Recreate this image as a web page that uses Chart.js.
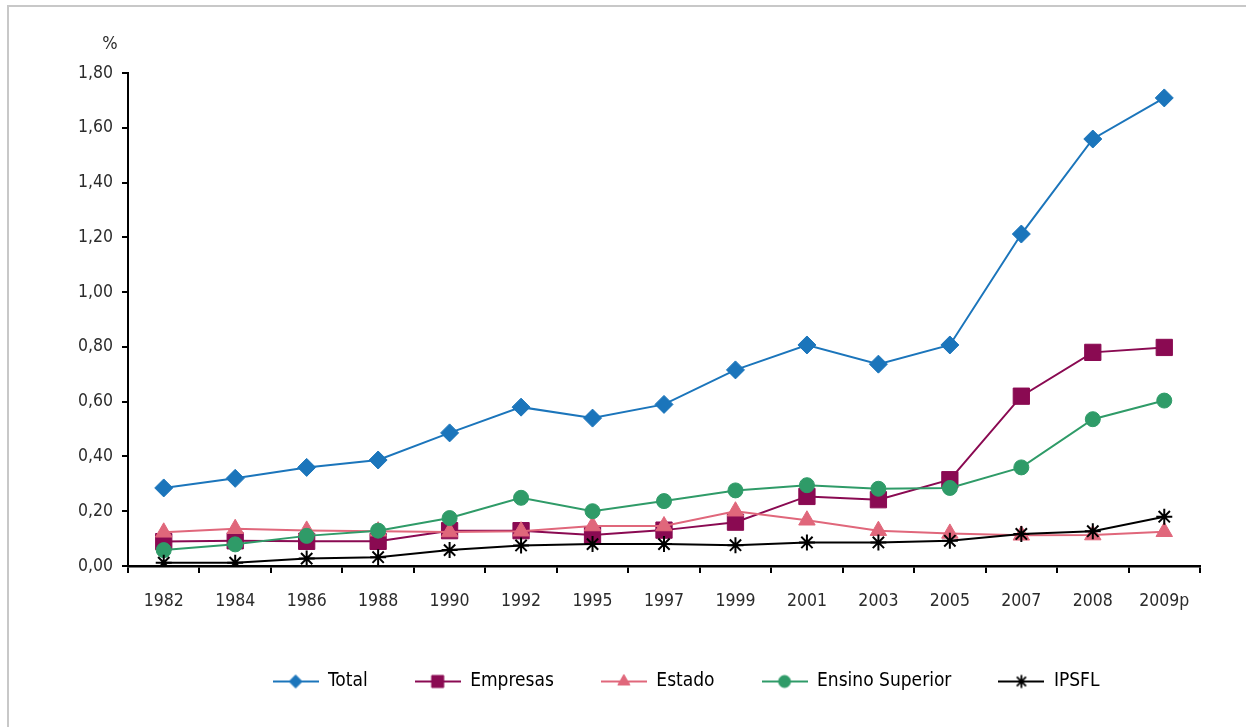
<!DOCTYPE html>
<html lang="pt">
<head>
  <meta charset="UTF-8" />
  <title>Despesa em I&D em % do PIB</title>
  <script src="https://cdn.jsdelivr.net/npm/chart.js"></script>
  <style>
    body { margin: 0; background: #fff; }
    .frame { position: absolute; left: 7px; top: 5px; width: 1250px; height: 740px; border-top: 2px solid #c8c8c8; border-left: 2px solid #c8c8c8; }
    .wrap { position: absolute; left: 0; top: 0; width: 1246px; height: 727px; }
  </style>
</head>
<body>
  <div class="frame"></div>
  <div class="wrap"><canvas id="chart"></canvas></div>

  <script>
    const years = ["1982", "1984", "1986", "1988", "1990", "1992", "1995", "1997", "1999", "2001", "2003", "2005", "2007", "2008", "2009p"];
    const total = [0.285, 0.32, 0.36, 0.387, 0.486, 0.58, 0.54, 0.59, 0.716, 0.807, 0.737, 0.807, 1.212, 1.559, 1.709];
    const empresas = [0.089, 0.092, 0.09, 0.09, 0.129, 0.129, 0.113, 0.131, 0.16, 0.254, 0.242, 0.315, 0.62, 0.78, 0.798];
    const estado = [0.123, 0.136, 0.13, 0.127, 0.124, 0.127, 0.146, 0.146, 0.2, 0.167, 0.129, 0.119, 0.112, 0.113, 0.125];
    const ensinoSuperior = [0.058, 0.079, 0.11, 0.129, 0.175, 0.249, 0.2, 0.237, 0.276, 0.295, 0.282, 0.285, 0.36, 0.536, 0.604];
    const ipsfl = [0.012, 0.012, 0.027, 0.032, 0.058, 0.075, 0.08, 0.08, 0.076, 0.086, 0.086, 0.092, 0.117, 0.127, 0.18];
    const yTicks = [0, 0.2, 0.4, 0.6, 0.8, 1.0, 1.2, 1.4, 1.6, 1.8];

    const FONT = "'Liberation Sans Narrow', 'DejaVu Sans Condensed', sans-serif";
    const TEXT = "#2b2b2b";

    const series = [
      { label: "Total", data: total, color: "#1b75bb", style: "rectRot", radius: 9, legendRadius: 6.5 },
      { label: "Empresas", data: empresas, color: "#8a0a52", style: "rect", radius: 11.5, legendRadius: 8.5 },
      { label: "Estado", data: estado, color: "#e0677b", style: "triangle", radius: 9.5, legendRadius: 7 },
      { label: "Ensino Superior", data: ensinoSuperior, color: "#2f9b68", style: "circle", radius: 7.5, legendRadius: 6 },
      { label: "IPSFL", data: ipsfl, color: "#000000", style: "star", radius: 8, legendRadius: 6.5 }
    ];

    // small line + marker picture for each legend entry
    function legendIcon(s) {
      const c = document.createElement("canvas");
      c.width = 46; c.height = 20;
      const ctx = c.getContext("2d");
      ctx.strokeStyle = s.color;
      ctx.lineWidth = 2;
      ctx.beginPath(); ctx.moveTo(0, 10); ctx.lineTo(46, 10); ctx.stroke();
      ctx.fillStyle = s.color;
      ctx.lineWidth = s.style === "star" ? 1.8 : 1;
      Chart.helpers.drawPoint(ctx, { pointStyle: s.style, radius: s.legendRadius, rotation: 0, borderWidth: ctx.lineWidth }, 23, 10);
      return c;
    }

    const legendShift = {
      id: "legendShift",
      afterLayout(chart) {
        chart.legend.left += 86;
        chart.legend.right += 86;
      }
    };

    const percentLabel = {
      id: "percentLabel",
      afterDraw(chart) {
        const ctx = chart.ctx;
        ctx.save();
        ctx.font = "18px " + FONT;
        ctx.fillStyle = TEXT;
        ctx.textAlign = "center";
        ctx.textBaseline = "middle";
        ctx.fillText("%", 110, 44);
        ctx.restore();
      }
    };

    new Chart(document.getElementById("chart"), {
      type: "line",
      data: {
        labels: years,
        datasets: series.map((s, i) => ({
          label: s.label,
          data: s.data,
          borderColor: s.color,
          backgroundColor: s.color,
          borderWidth: 2,
          pointStyle: s.style,
          pointRadius: s.radius,
          pointHoverRadius: s.radius,
          pointBorderWidth: s.style === "star" ? 2 : 1,
          pointBorderColor: s.color,
          pointBackgroundColor: s.color,
          tension: 0,
          fill: false,
          order: series.length - i
        }))
      },
      options: {
        responsive: true,
        maintainAspectRatio: false,
        animation: false,
        layout: { padding: { left: 0, right: 46, top: 73, bottom: 26 } },
        plugins: {
          tooltip: { enabled: false },
          legend: {
            position: "bottom",
            labels: {
              usePointStyle: true,
              pointStyleWidth: 46,
              padding: 47,
              color: TEXT,
              font: { family: FONT, size: 19 },
              generateLabels: () => series.map((s, i) => ({
                text: s.label,
                pointStyle: legendIcon(s),
                fillStyle: s.color,
                strokeStyle: s.color,
                lineWidth: 0,
                datasetIndex: i,
                hidden: false
              }))
            }
          }
        },
        scales: {
          x: {
            offset: true,
            afterFit(scale) { scale.height = 59; },
            grid: { offset: true, drawOnChartArea: false, drawTicks: true, tickLength: 7, color: "#000", lineWidth: 2 },
            border: { display: true, color: "#000", width: 2.5 },
            ticks: { color: TEXT, font: { family: FONT, size: 17.5 }, padding: 18, maxRotation: 0, autoSkip: false }
          },
          y: {
            min: 0,
            max: 1.8,
            afterFit(scale) { scale.width = 128; },
            afterBuildTicks(scale) { scale.ticks = yTicks.map(v => ({ value: v })); },
            grid: { drawOnChartArea: false, drawTicks: true, tickLength: 6, color: "#000", lineWidth: 2 },
            border: { display: true, color: "#000", width: 2 },
            ticks: {
              color: TEXT,
              font: { family: FONT, size: 17.5 },
              padding: 9,
              callback: v => v.toFixed(2).replace(".", ",")
            }
          }
        }
      },
      plugins: [legendShift, percentLabel]
    });
  </script>
</body>
</html>
